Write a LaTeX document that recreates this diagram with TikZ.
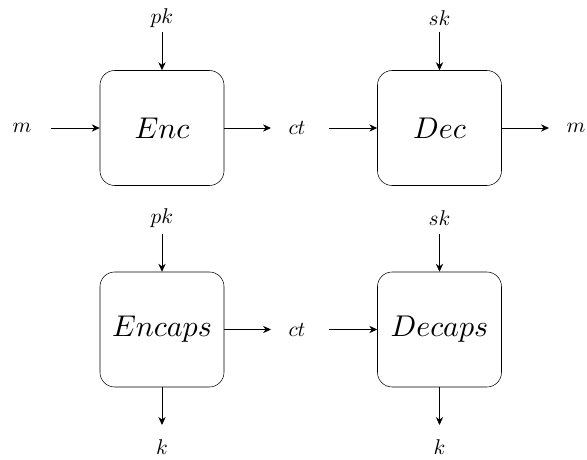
\documentclass[tikz,border=0pt]{standalone}
\usepackage{graphicx}
\usetikzlibrary{arrows.meta}
\newcommand{\bigtxt}[1]{\scalebox{2.25}{$#1$}}
\newcommand{\smtxt}[1]{\scalebox{1.6}{$#1$}}
\begin{document}
\begin{tikzpicture}[x=0.75pt,y=-0.75pt,
  box/.style={draw,rounded corners=11pt,minimum width=124*0.75pt,minimum height=115*0.75pt,inner sep=0pt,font=\normalsize},
  lbl/.style={inner sep=0pt,font=\normalsize},
  conn/.style={-{Stealth[length=6pt,width=5.5pt]},line width=0.7pt}]
\useasboundingbox (0,0) rectangle (587,460);
% top row
\node[box] (enc) at (162,128) {\bigtxt{Enc}};
\node[box] (dec) at (439.5,128) {\bigtxt{Dec}};
\node[lbl] (pk1) at (162,18) {\smtxt{pk}};
\node[lbl] (sk1) at (439.5,18) {\smtxt{sk}};
\node[lbl] (m1) at (22,128) {\smtxt{m}};
\node[lbl] (ct1) at (297,128) {\smtxt{ct}};
\node[lbl] (m2) at (576,128) {\smtxt{m}};
\coordinate (m1e) at (51,128);
\coordinate (enco) at (271,128);
\coordinate (ct1e) at (329,128);
\coordinate (deco) at (549,128);
\coordinate (pk1e) at (162,32);
\coordinate (sk1e) at (439.5,32);
\draw[conn] (m1e) -- (enc.west);
\draw[conn] (enc.east) -- (enco);
\draw[conn] (ct1e) -- (dec.west);
\draw[conn] (dec.east) -- (deco);
\draw[conn] (pk1e) -- (enc.north);
\draw[conn] (sk1e) -- (dec.north);
% bottom row
\node[box] (encaps) at (162,329.5) {\bigtxt{Encaps}};
\node[box] (decaps) at (439.5,329.5) {\bigtxt{Decaps}};
\node[lbl] (pk2) at (162,218) {\smtxt{pk}};
\node[lbl] (sk2) at (439.5,218) {\smtxt{sk}};
\node[lbl] (ct2) at (297,329.5) {\smtxt{ct}};
\node[lbl] (k1) at (162,447) {\smtxt{k}};
\node[lbl] (k2) at (439.5,447) {\smtxt{k}};
\coordinate (pk2e) at (162,234);
\coordinate (sk2e) at (439.5,234);
\coordinate (encapso) at (271,329.5);
\coordinate (ct2e) at (329,329.5);
\coordinate (k1e) at (162,425);
\coordinate (k2e) at (439.5,425);
\draw[conn] (pk2e) -- (encaps.north);
\draw[conn] (sk2e) -- (decaps.north);
\draw[conn] (encaps.east) -- (encapso);
\draw[conn] (ct2e) -- (decaps.west);
\draw[conn] (encaps.south) -- (k1e);
\draw[conn] (decaps.south) -- (k2e);
\end{tikzpicture}
\end{document}
